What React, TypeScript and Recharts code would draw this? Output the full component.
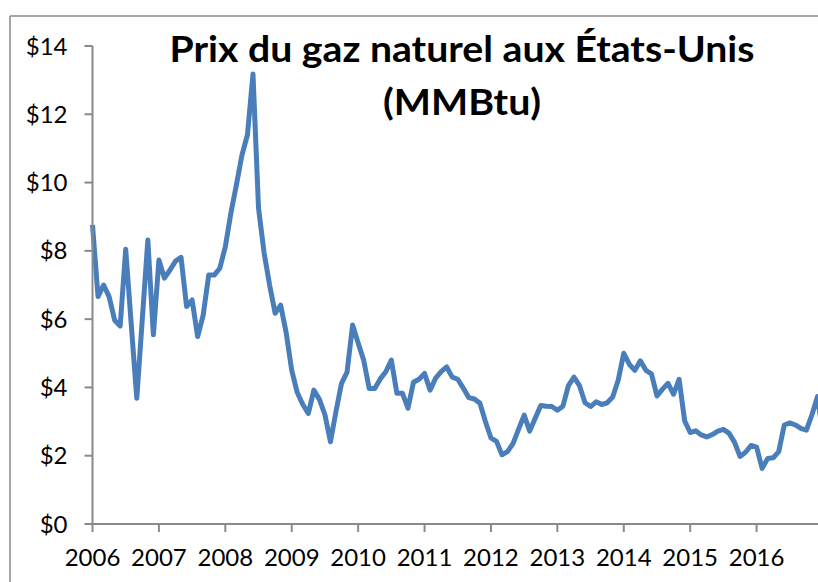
import React from 'react';
import { LineChart, Line, XAxis, YAxis } from 'recharts';

// Monthly price, $/MMBtu
const prices2006 = [8.76, 6.66, 7.0, 6.66, 5.97, 5.8, 8.05, 5.85, 3.68, 6.0, 8.32, 5.54];
const prices2007 = [7.73, 7.2, 7.44, 7.7, 7.81, 6.37, 6.56, 5.49, 6.12, 7.29, 7.29, 7.49];
const prices2008 = [8.12, 9.1, 9.93, 10.8, 11.4, 13.18, 9.25, 7.95, 7.0, 6.17, 6.41, 5.6];
const prices2009 = [4.5, 3.85, 3.5, 3.24, 3.92, 3.65, 3.2, 2.41, 3.3, 4.12, 4.45, 5.83];
const prices2010 = [5.3, 4.8, 3.97, 3.97, 4.25, 4.46, 4.8, 3.83, 3.83, 3.39, 4.15, 4.24];
const prices2011 = [4.41, 3.92, 4.27, 4.46, 4.6, 4.3, 4.24, 3.98, 3.7, 3.66, 3.54, 3.0];
const prices2012 = [2.52, 2.42, 2.03, 2.12, 2.36, 2.78, 3.19, 2.72, 3.1, 3.47, 3.45, 3.44];
const prices2013 = [3.33, 3.45, 4.05, 4.3, 4.05, 3.55, 3.44, 3.58, 3.5, 3.55, 3.72, 4.22];
const prices2014 = [5.0, 4.68, 4.5, 4.78, 4.5, 4.4, 3.75, 3.95, 4.12, 3.8, 4.24, 3.02];
const prices2015 = [2.68, 2.73, 2.61, 2.55, 2.62, 2.72, 2.77, 2.66, 2.4, 1.98, 2.1, 2.3];
const prices2016 = [2.25, 1.63, 1.92, 1.94, 2.12, 2.9, 2.96, 2.9, 2.8, 2.75, 3.2, 3.73];
const prices2017 = [2.6];

const years = ['2006', '2007', '2008', '2009', '2010', '2011', '2012', '2013', '2014', '2015', '2016'];
const priceTicks = [0, 2, 4, 6, 8, 10, 12, 14];

const allPrices = [
  ...prices2006, ...prices2007, ...prices2008, ...prices2009, ...prices2010, ...prices2011,
  ...prices2012, ...prices2013, ...prices2014, ...prices2015, ...prices2016, ...prices2017,
];
const data = allPrices.map((price, month) => ({ month, price }));
const yearTicks = years.map((_, i) => i * 12);

const FONT = 'Lato, "Noto Sans", sans-serif';
const GREY = '#898989';

export default function App() {
  return (
    <div
      style={{
        position: 'fixed',
        left: 0,
        top: 0,
        width: 818,
        height: 582,
        overflow: 'hidden',
        background: '#fff',
      }}
    >
      <div style={{ position: 'absolute', left: 0, top: 0 }}>
        <LineChart width={840} height={582} data={data} margin={{ top: 46, right: 17, bottom: 18, left: 32.5 }}>
          <XAxis
            dataKey="month"
            type="number"
            domain={[0, 132]}
            ticks={yearTicks}
            interval={0}
            tickFormatter={(v: number) => years[Math.round(v / 12)]}
            height={40}
            stroke={GREY}
            strokeWidth={2}
            tickSize={8}
            tickMargin={17}
            tick={{ fill: '#000', fontSize: 24, fontFamily: FONT }}
          />
          <YAxis
            domain={[0, 14]}
            ticks={priceTicks}
            interval={0}
            tickFormatter={(v: number) => `$${v}`}
            width={60}
            stroke={GREY}
            strokeWidth={2}
            tickSize={8}
            tickMargin={17}
            tick={{ fill: '#000', fontSize: 24, fontFamily: FONT }}
          />
          <Line
            type="linear"
            dataKey="price"
            stroke="#4A7EBB"
            strokeWidth={5}
            strokeLinejoin="round"
            dot={false}
            activeDot={false}
            isAnimationActive={false}
          />
        </LineChart>
      </div>
      <svg
        width={818}
        height={582}
        style={{ position: 'absolute', left: 0, top: 0, pointerEvents: 'none' }}
      >
        <line x1={10} y1={16} x2={818} y2={16} stroke={GREY} strokeWidth={1.5} />
        <line x1={10} y1={16} x2={10} y2={582} stroke={GREY} strokeWidth={1.5} />
        <text
          x={462}
          y={62}
          textAnchor="middle"
          fontFamily={FONT}
          fontWeight={700}
          fontSize={36}
          textLength={585}
          lengthAdjust="spacingAndGlyphs"
          fill="#000"
        >
          Prix du gaz naturel aux États-Unis
        </text>
        <text
          x={462}
          y={115}
          textAnchor="middle"
          fontFamily={FONT}
          fontWeight={700}
          fontSize={36}
          textLength={158}
          lengthAdjust="spacingAndGlyphs"
          fill="#000"
        >
          (MMBtu)
        </text>
      </svg>
    </div>
  );
}
